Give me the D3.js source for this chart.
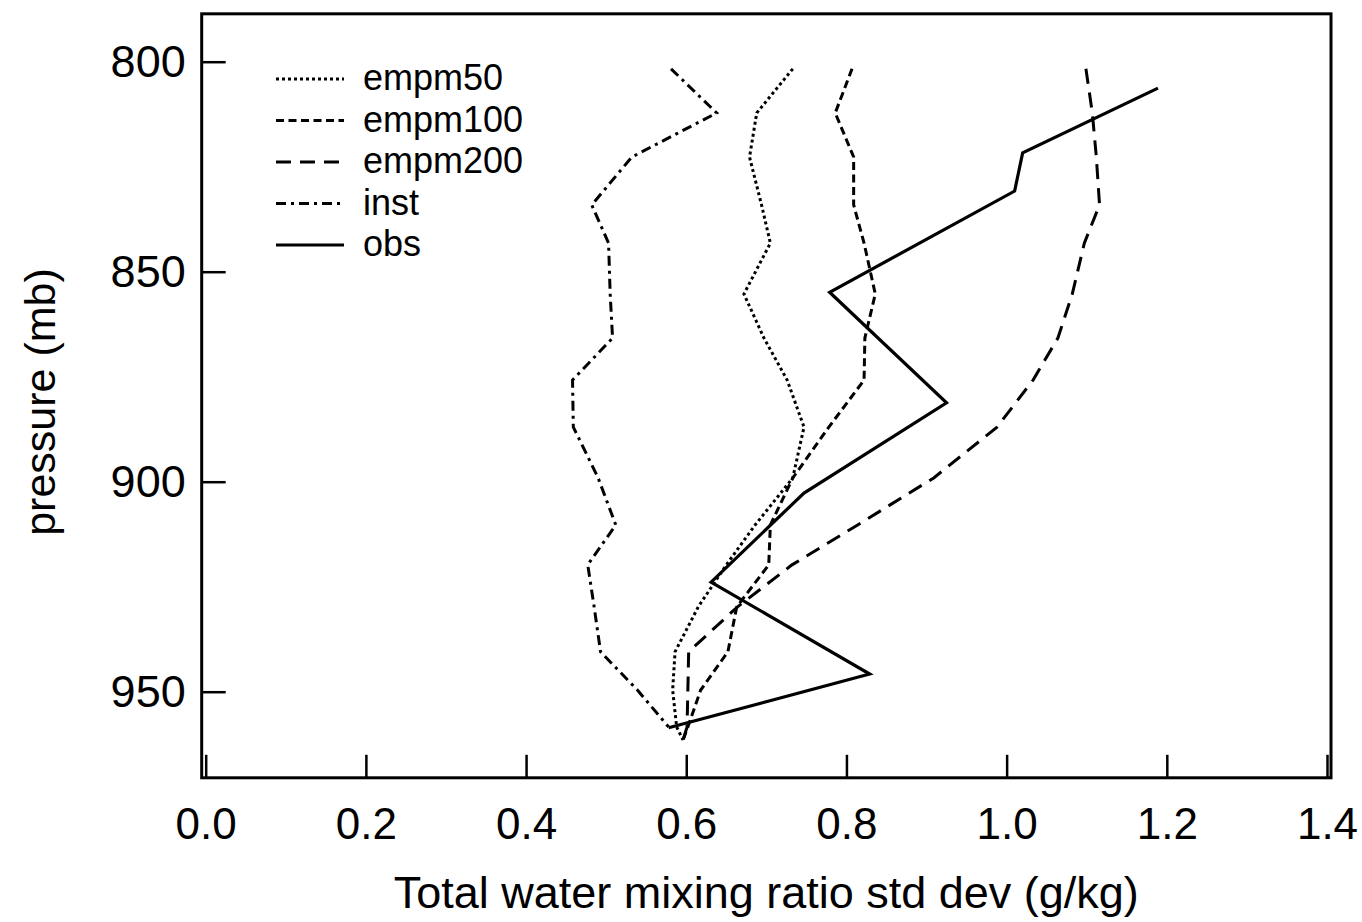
<!DOCTYPE html>
<html>
<head>
<meta charset="utf-8">
<script src="https://cdn.jsdelivr.net/npm/d3@7"></script>
<style>
  html, body { margin: 0; padding: 0; background: #fff; }
  svg { display: block; }
  text { font-family: "Liberation Sans", Arial, Helvetica, sans-serif; fill: #000; }
</style>
</head>
<body>
<svg id="chart" width="1362" height="922"></svg>
<script>
// Model pressure levels (mb) shared by the simulated profiles
const modelLevels = [801.7, 812.2, 822.7, 834.1, 843.2, 855.3, 865.8, 875.8, 887.0, 899.1, 910.3, 919.8, 929.8, 940.5, 949.6, 958.4, 961.5];

// Std dev of total water mixing ratio (g/kg) at each model level
const empm50  = [0.733, 0.688, 0.679, 0.694, 0.705, 0.672, 0.697, 0.726, 0.747, 0.733, 0.686, 0.650, 0.615, 0.586, 0.583, 0.588, 0.596];
const empm100 = [0.807, 0.786, 0.809, 0.809, 0.822, 0.836, 0.823, 0.822, 0.778, 0.733, 0.705, 0.703, 0.663, 0.652, 0.618, 0.602, 0.596];
const empm200 = [1.099, 1.107, 1.112, 1.116, 1.097, 1.082, 1.064, 1.033, 0.988, 0.909, 0.814, 0.732, 0.664, 0.603, 0.602, 0.601, 0.596];
const inst    = [0.581, 0.638, 0.532, 0.482, 0.503, 0.505, 0.508, 0.458, 0.459, 0.490, 0.512, 0.477, 0.485, 0.493, 0.539, 0.578, null];

// Observed profile, on its own pressure levels
const obsLevels = [806.3, 821.7, 830.8, 854.9, 881.2, 902.7, 923.9, 945.8, 958.6];
const obs       = [1.189, 1.020, 1.010, 0.779, 0.925, 0.747, 0.631, 0.829, 0.578];

// Axis ticks and labels
const xTicks = [0.0, 0.2, 0.4, 0.6, 0.8, 1.0, 1.2, 1.4];
const pTicks = [800, 850, 900, 950];
const seriesNames = ["empm50", "empm100", "empm200", "inst", "obs"];
const seriesDash  = ["3,3", "8,4.5", "15,9", "10,5,3,5", null];

const xTitle = "Total water mixing ratio std dev (g/kg)";
const yTitle = "pressure (mb)";

const svg = d3.select("#chart");

const x = d3.scaleLinear().domain([0, 1.4]).range([205.7, 1327]);
const y = d3.scaleLinear().domain([800, 950]).range([61.7, 691.7]);

// Plot frame extents in data units
const frameX = [-0.005, 1.405];
const frameP = [788.6, 970.5];

const frameLeft = x(frameX[0]), frameRight = x(frameX[1]);
const frameTop = y(frameP[0]), frameBottom = y(frameP[1]);

// Frame
svg.append("rect")
  .attr("x", frameLeft).attr("y", frameTop)
  .attr("width", frameRight - frameLeft).attr("height", frameBottom - frameTop)
  .attr("fill", "none").attr("stroke", "#000").attr("stroke-width", 3);

// Y axis: ticks point inward from the left edge
const yAxis = svg.append("g")
  .attr("transform", `translate(${frameLeft},0)`)
  .call(d3.axisLeft(y).tickValues(pTicks).tickSize(-24).tickPadding(16).tickFormat(d3.format("d")));
yAxis.select(".domain").remove();
yAxis.selectAll(".tick line").attr("stroke", "#000").attr("stroke-width", 2.5);
yAxis.selectAll(".tick text").attr("font-size", 45).attr("font-family", null);

// X axis: ticks point up from the bottom edge
const xAxis = svg.append("g")
  .attr("transform", `translate(0,${frameBottom})`)
  .call(d3.axisBottom(x).tickValues(xTicks).tickSize(-23).tickPadding(30).tickFormat(d3.format(".1f")));
xAxis.select(".domain").remove();
xAxis.selectAll(".tick line").attr("stroke", "#000").attr("stroke-width", 2.5);
xAxis.selectAll(".tick text").attr("font-size", 44).attr("font-family", null);

// Axis titles
svg.append("text")
  .attr("x", (frameLeft + frameRight) / 2).attr("y", 908)
  .attr("text-anchor", "middle").attr("font-size", 44)
  .attr("textLength", 745).attr("lengthAdjust", "spacingAndGlyphs")
  .text(xTitle);

svg.append("text")
  .attr("transform", `translate(55,402) rotate(-90)`)
  .attr("text-anchor", "middle").attr("font-size", 43)
  .text(yTitle);

// Profiles
const line = d3.line()
  .defined(d => d[1] !== null)
  .x(d => x(d[1]))
  .y(d => y(d[0]));

const modelSeries = [empm50, empm100, empm200, inst];
modelSeries.forEach((vals, i) => {
  svg.append("path")
    .datum(modelLevels.map((p, j) => [p, vals[j]]))
    .attr("d", line)
    .attr("fill", "none")
    .attr("stroke", "#000")
    .attr("stroke-width", 3)
    .attr("stroke-dasharray", seriesDash[i]);
});

svg.append("path")
  .datum(obsLevels.map((p, j) => [p, obs[j]]))
  .attr("d", line)
  .attr("fill", "none")
  .attr("stroke", "#000")
  .attr("stroke-width", 3.2)
  .attr("stroke-linejoin", "miter");

// Legend
const legend = svg.append("g").attr("transform", "translate(276,79)");
seriesNames.forEach((name, i) => {
  const row = legend.append("g").attr("transform", `translate(0,${i * 41.5})`);
  row.append("line")
    .attr("x1", 0).attr("x2", 68).attr("y1", 0).attr("y2", 0)
    .attr("stroke", "#000").attr("stroke-width", 3)
    .attr("stroke-dasharray", seriesDash[i]);
  row.append("text")
    .attr("x", 87).attr("y", 11)
    .attr("font-size", 36)
    .text(name);
});
</script>
</body>
</html>
